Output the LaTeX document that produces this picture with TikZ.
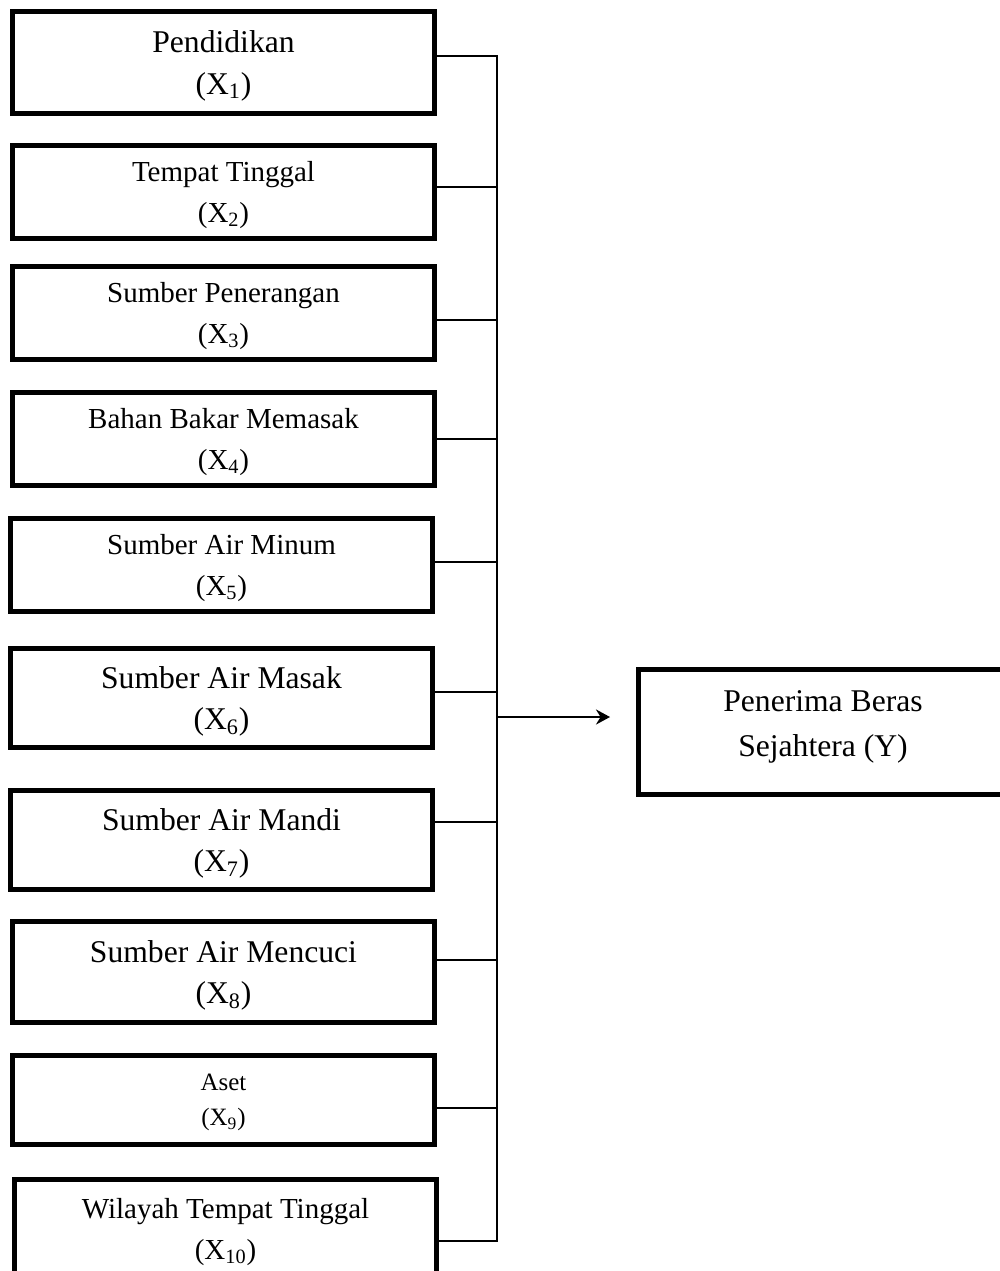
\documentclass[tikz,border=0pt]{standalone}
\usepackage{fontspec}
\setmainfont{Liberation Serif}
\usepackage{tikz}
\usetikzlibrary{arrows.meta,positioning,calc}

\begin{document}
\begin{tikzpicture}[
    box/.style={rectangle,draw=black,line width=3.1pt,minimum width=8.43cm,minimum height=1.85cm,align=center,inner sep=0pt,text depth=0pt},
    mid/.style={font=\fontsize{16.5}{23}\selectfont},
    big/.style={font=\fontsize{18}{23.5}\selectfont},
    small/.style={font=\fontsize{14.2}{20}\selectfont},
    target/.style={rectangle,draw=black,line width=3.1pt,minimum width=7.37cm,minimum height=2.49cm,align=center,font=\fontsize{18}{25.5}\selectfont},
    link/.style={line width=1.1pt,black},
    arrow/.style={-{Stealth[length=0.28cm,width=0.3cm]},line width=1.4pt,black},
]
\useasboundingbox (0,0) rectangle (20,-25.42);
\clip (0,0) rectangle (20,-25.42);

\node[box,big,minimum height=2.03cm] (x1)  at (4.47,-1.25)  {Pendidikan\\(X\textsubscript{1})};
\node[box,mid]                       (x2)  at (4.47,-3.84)  {Tempat Tinggal\\(X\textsubscript{2})};
\node[box,mid]                       (x3)  at (4.47,-6.26)  {Sumber Penerangan\\(X\textsubscript{3})};
\node[box,mid]                       (x4)  at (4.47,-8.78)  {Bahan Bakar Memasak\\(X\textsubscript{4})};
\node[box,mid]                       (x5)  at (4.43,-11.30) {Sumber Air Minum\\(X\textsubscript{5})};
\node[box,big,minimum height=1.97cm] (x6)  at (4.43,-13.96) {Sumber Air Masak\\(X\textsubscript{6})};
\node[box,big,minimum height=1.97cm] (x7)  at (4.43,-16.80) {Sumber Air Mandi\\(X\textsubscript{7})};
\node[box,big,minimum height=2.01cm] (x8)  at (4.47,-19.44) {Sumber Air Mencuci\\(X\textsubscript{8})};
\node[box,small,minimum height=1.77cm] (x9) at (4.47,-22.00) {Aset\\(X\textsubscript{9})};
\node[box,mid,minimum height=1.97cm] (x10) at (4.51,-24.58) {Wilayah Tempat Tinggal\\(X\textsubscript{10})};

\node[target,text depth=0.35cm] (y) at (16.46,-14.64) {Penerima Beras\\Sejahtera (Y)};

\coordinate (bustop) at (9.94,-1.12);
\coordinate (busend) at (9.94,-24.82);
\coordinate (join)   at (9.94,-14.34);

% bus from every factor
\draw[link] ([yshift=0.13cm]x1.east) -- (bustop) -- (busend) -- ([yshift=-0.24cm]x10.east);
\draw[link] ([yshift=0.10cm]x2.east) -- ([yshift=0.10cm]bustop |- x2.east);
\draw[link] ([yshift=-0.14cm]x3.east) -- ([yshift=-0.14cm]bustop |- x3.east);
\draw[link] (x4.east) -- (bustop |- x4.east);
\draw[link] ([yshift=0.06cm]x5.east) -- ([yshift=0.06cm]bustop |- x5.east);
\draw[link] ([yshift=0.12cm]x6.east) -- ([yshift=0.12cm]bustop |- x6.east);
\draw[link] ([yshift=0.36cm]x7.east) -- ([yshift=0.36cm]bustop |- x7.east);
\draw[link] ([yshift=0.24cm]x8.east) -- ([yshift=0.24cm]bustop |- x8.east);
\draw[link] ([yshift=-0.16cm]x9.east) -- ([yshift=-0.16cm]bustop |- x9.east);

\draw[arrow,shorten >=0.52cm] (join) -- (join -| y.west);
\end{tikzpicture}
\end{document}
